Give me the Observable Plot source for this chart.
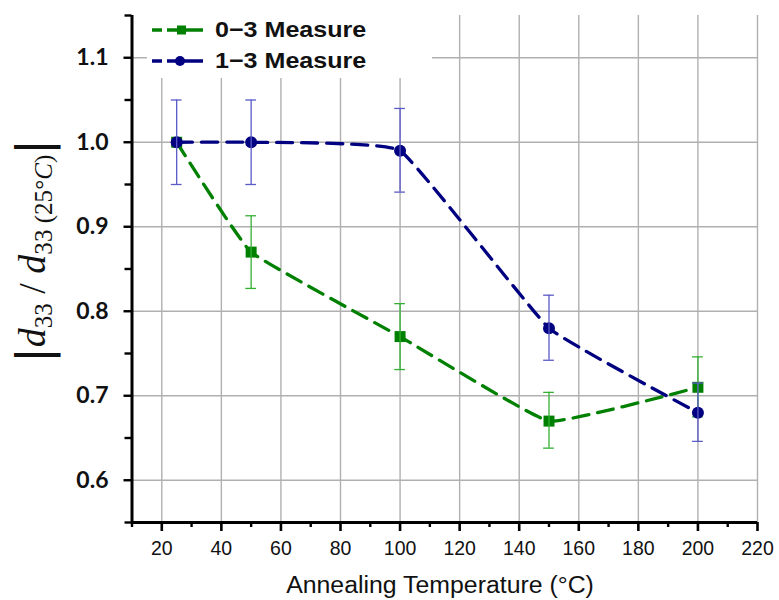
<!DOCTYPE html>
<html>
<head>
<meta charset="utf-8">
<script src="https://cdn.jsdelivr.net/npm/d3@7"></script>
<script src="https://cdn.jsdelivr.net/npm/@observablehq/plot@0.6"></script>
<style>
  html, body { margin: 0; padding: 0; background: white; }
  #wrap { position: relative; width: 779px; height: 600px; overflow: hidden; }
  #legend { position: absolute; left: 147px; top: 0px; width: 285px; height: 78px; background: white; }
  .lrow { position: absolute; left: 0; height: 24px; display: flex; align-items: center; }
  .lrow svg { display: block; }
  .ltext { position: absolute; left: 68px; font-family: 'Liberation Sans', Arial, sans-serif; font-weight: bold; font-size: 22px; color: #111; white-space: nowrap; transform-origin: left center; transform: scaleX(1.14); }
  #ylab { position: absolute; left: 33px; top: 251px; transform: translate(-50%, -50%) rotate(-90deg); white-space: nowrap; font-family: 'Liberation Serif', 'DejaVu Serif', serif; font-size: 38px; line-height: 1; color: #111; }
  #ylab sub { font-size: 0.66em; vertical-align: -0.3em; font-style: normal; }
  #ylab .bar { font-family: 'DejaVu Sans', sans-serif; font-size: 46px; vertical-align: -0.08em; }
  #xlab { position: absolute; left: 440px; top: 572px; transform: translateX(-50%) scaleX(1.08); white-space: nowrap; font-family: 'Liberation Sans', Arial, sans-serif; font-size: 23px; color: #111; }
</style>
</head>
<body>
<div id="wrap">
  <div id="chart"></div>
  <div id="legend"></div>
  <div id="ylab"><span class="bar">|</span><i>d</i><sub>33</sub> / <i>d</i><sub>33 (25°<i>C</i>)</sub><span class="bar">|</span></div>
  <div id="xlab">Annealing Temperature (°C)</div>
</div>
<script>
// ---- data ----
const temps = [25, 50, 100, 150, 200];
const seriesNames = ["0\u22123 Measure", "1\u22123 Measure"];
const seriesColors = ["#008000", "#000080"];
const errColors = ["#33b033", "#5a5ac8"];
const seriesSymbols = ["square", "circle"];

const values03 = [1.00, 0.87, 0.77, 0.67, 0.71];
const err03Hi = [null, 0.913, 0.809, 0.704, 0.746];
const err03Lo = [null, 0.827, 0.731, 0.638, 0.675];

const values13 = [1.00, 1.00, 0.99, 0.78, 0.68];
const err13Hi = [1.05, 1.05, 1.04, 0.819, 0.715];
const err13Lo = [0.95, 0.95, 0.941, 0.742, 0.646];

const xTicks = [20, 40, 60, 80, 100, 120, 140, 160, 180, 200, 220];
const xMinor = [10, 30, 50, 70, 90, 110, 130, 150, 170, 190, 210];
const yTicks = [0.6, 0.7, 0.8, 0.9, 1.0, 1.1];
const yMinor = [0.55, 0.65, 0.75, 0.85, 0.95, 1.05, 1.15];

// ---- build rows ----
const rows = [
  temps.map((t, i) => ({t, v: values03[i], hi: err03Hi[i], lo: err03Lo[i]})),
  temps.map((t, i) => ({t, v: values13[i], hi: err13Hi[i], lo: err13Lo[i]}))
];
const capHalf = 1.8;
const noText = () => "";

function seriesMarks(k) {
  const d = rows[k];
  const e = d.filter(r => r.hi != null);
  return [
    Plot.line(d, {x: "t", y: "v", curve: "cardinal", tension: 0.7, stroke: seriesColors[k], strokeWidth: 3.3, strokeDasharray: "16,9"}),
    Plot.dot(d, {x: "t", y: "v", symbol: seriesSymbols[k], r: k === 0 ? 6.2 : 6, fill: seriesColors[k], stroke: "none"}),
    Plot.ruleX(e, {x: "t", y1: "lo", y2: "hi", stroke: errColors[k], strokeWidth: 1.3}),
    Plot.ruleY(e, {y: "hi", x1: r => r.t - capHalf, x2: r => r.t + capHalf, stroke: errColors[k], strokeWidth: 1.3}),
    Plot.ruleY(e, {y: "lo", x1: r => r.t - capHalf, x2: r => r.t + capHalf, stroke: errColors[k], strokeWidth: 1.3})
  ];
}

const chart = Plot.plot({
  width: 779,
  height: 600,
  marginLeft: 131.5,
  marginRight: 22,
  marginTop: 15,
  marginBottom: 78,
  style: {fontFamily: "'Liberation Sans', Arial, sans-serif", background: "white", color: "black"},
  x: {domain: [10, 220], axis: null},
  y: {domain: [0.55, 1.15], axis: null},
  marks: [
    Plot.gridX(xTicks, {stroke: "#b0b0b0", strokeOpacity: 1, strokeWidth: 1.4}),
    Plot.gridY(yTicks, {stroke: "#b0b0b0", strokeOpacity: 1, strokeWidth: 1.4}),
    ...seriesMarks(0),
    ...seriesMarks(1),
    Plot.ruleX([10], {stroke: "black", strokeWidth: 3}),
    Plot.ruleY([0.55], {stroke: "black", strokeWidth: 3}),
    Plot.axisX(xMinor, {tickSize: 5, tickFormat: noText, label: null, stroke: "black", strokeWidth: 2.4}),
    Plot.axisX(xTicks, {tickSize: 9, tickPadding: 10, label: null, stroke: "black", strokeWidth: 2.6, fontSize: 19.5, fill: "#111"}),
    Plot.axisY(yMinor, {tickSize: 7, tickFormat: noText, label: null, stroke: "black", strokeWidth: 2.4}),
    Plot.axisY(yTicks, {tickSize: 8, tickPadding: 15.5, tickFormat: ".1f", label: null, stroke: "black", strokeWidth: 2.4, fontSize: 23, fontWeight: "bold", fontFamily: "Lato, 'Liberation Sans', sans-serif", fill: "#111"})
  ]
});
document.getElementById("chart").appendChild(chart);

// ---- legend (HTML) ----
const legend = document.getElementById("legend");
const rowCenters = [30, 61];
seriesNames.forEach((name, k) => {
  const row = document.createElement("div");
  row.className = "lrow";
  row.style.top = (rowCenters[k] - 12) + "px";
  const ns = "http://www.w3.org/2000/svg";
  const svg = document.createElementNS(ns, "svg");
  svg.setAttribute("width", "62");
  svg.setAttribute("height", "24");
  const line = document.createElementNS(ns, "line");
  line.setAttribute("x1", "5"); line.setAttribute("x2", "56");
  line.setAttribute("y1", "12"); line.setAttribute("y2", "12");
  line.setAttribute("stroke", seriesColors[k]);
  line.setAttribute("stroke-width", "3.3");
  line.setAttribute("stroke-dasharray", "10,5,40");
  svg.appendChild(line);
  if (seriesSymbols[k] === "square") {
    const r = document.createElementNS(ns, "rect");
    r.setAttribute("x", "30"); r.setAttribute("y", "7.5");
    r.setAttribute("width", "9"); r.setAttribute("height", "9");
    r.setAttribute("fill", seriesColors[k]);
    svg.appendChild(r);
  } else {
    const c = document.createElementNS(ns, "circle");
    c.setAttribute("cx", "33"); c.setAttribute("cy", "12"); c.setAttribute("r", "5");
    c.setAttribute("fill", seriesColors[k]);
    svg.appendChild(c);
  }
  row.appendChild(svg);
  const txt = document.createElement("div");
  txt.className = "ltext";
  txt.textContent = name;
  row.appendChild(txt);
  legend.appendChild(row);
});
</script>
</body>
</html>
